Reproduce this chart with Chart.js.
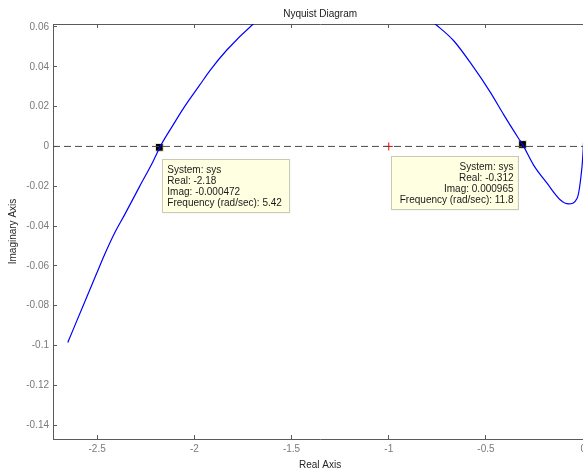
<!DOCTYPE html>
<html>
<head>
<meta charset="utf-8">
<title>Nyquist Diagram</title>
<script src="https://cdn.jsdelivr.net/npm/chart.js@4/dist/chart.umd.min.js"></script>
<style>
  html, body { margin: 0; padding: 0; background: #fff; overflow: hidden; }
  #wrap { width: 583px; height: 473px; overflow: hidden; }
  canvas { display: block; }
</style>
</head>
<body>
<div id="wrap"><canvas id="nyq" width="594" height="473"></canvas></div>
<script>
// 1) data
const curveRe = [-2.651, -2.557, -2.505, -2.462, -2.410, -2.359, -2.282, -2.213, -2.176, -2.168,
                 -2.109, -2.057, -1.971, -1.920, -1.834, -1.697, -1.50, -1.35, -1.23, -1.10,
                 -0.90, -0.761, -0.667, -0.564, -0.478, -0.409, -0.332, -0.312, -0.255, -0.186,
                 -0.117, -0.075, -0.031, -0.006, -0.001, 0.004];
const curveIm = [-0.0985, -0.0765, -0.0644, -0.0544, -0.0435, -0.0344, -0.0202, -0.0077, -0.0002, 0.0013,
                 0.0108, 0.019, 0.0310, 0.0381, 0.0483, 0.0615, 0.0764, 0.0825, 0.084, 0.0823,
                 0.0728, 0.0615, 0.0532, 0.0398, 0.0273, 0.0160, 0.0040, 0.0010, -0.0094, -0.0185,
                 -0.0269, -0.0289, -0.026, -0.0102, -0.0035, 0.006];

const xRange = [-2.727, 0.021];
const yRange = [-0.147, 0.0615];
const criticalPoint = [-1, 0];

// data tips: [re, im, freq]
const tipRe   = [-2.18, -0.312];
const tipIm   = [-0.000472, 0.000965];
const tipFreq = ['5.42', '11.8'];
const tipSys  = 'sys';

// 2) build datasets
const curvePts = curveRe.map((re, i) => ({ x: re, y: curveIm[i] }));
const tipPts = tipRe.map((re, i) => ({ x: re, y: tipIm[i] }));

const FONT = "'Liberation Sans', Arial, Helvetica, sans-serif";
const fmt = v => String(Number(v.toFixed(4)));

// 3) data tip boxes
const dataTips = {
  id: 'dataTips',
  afterDatasetsDraw(chart) {
    const { ctx, scales } = chart;
    ctx.save();
    ctx.font = '10px ' + FONT;
    ctx.textBaseline = 'middle';
    tipRe.forEach((re, i) => {
      const px = scales.x.getPixelForValue(re);
      const py = scales.y.getPixelForValue(tipIm[i]);
      const lines = ['System: ' + tipSys, 'Real: ' + re, 'Imag: ' + tipIm[i], 'Frequency (rad/sec): ' + tipFreq[i]];
      const w = 127, h = 53;
      const left = i === 0 ? px + 3 : px - 5 - w;
      const top = py + 12;
      ctx.fillStyle = 'rgba(0,0,0,0.08)';
      ctx.fillRect(left + 1, top + 1, w, h);
      ctx.fillStyle = '#ffffe1';
      ctx.fillRect(left, top, w, h);
      ctx.strokeStyle = '#c9c9b8';
      ctx.lineWidth = 1;
      ctx.strokeRect(Math.round(left) + 0.5, Math.round(top) + 0.5, w, h);
      ctx.fillStyle = '#1a1a1a';
      ctx.textAlign = i === 0 ? 'left' : 'right';
      const tx = i === 0 ? left + 5 : left + w - 4;
      lines.forEach((t, k) => ctx.fillText(t, tx, top + 11 + k * 11));
    });
    ctx.restore();
  }
};

const axisColor = '#5a5a5a';

new Chart(document.getElementById('nyq'), {
  type: 'line',
  data: {
    datasets: [
      {
        data: curvePts,
        borderColor: '#0000ff',
        borderWidth: 1.2,
        pointRadius: 0,
        cubicInterpolationMode: 'monotone',
        fill: false
      },
      {
        data: [{ x: xRange[0], y: 0 }, { x: xRange[1], y: 0 }],
        borderColor: '#4a4a4a',
        borderWidth: 1,
        borderDash: [7, 4],
        pointRadius: 0,
        fill: false
      },
      {
        data: [{ x: criticalPoint[0], y: criticalPoint[1] }],
        showLine: false,
        pointStyle: 'cross',
        pointRadius: 4,
        borderColor: '#ff0000',
        borderWidth: 1
      },
      {
        data: tipPts,
        showLine: false,
        pointStyle: 'rect',
        pointRadius: 5.5,
        backgroundColor: '#000000',
        borderColor: '#f3eec4',
        borderWidth: 1
      }
    ]
  },
  options: {
    responsive: false,
    animation: false,
    layout: { padding: { left: 0, right: 0, top: 0, bottom: 0 } },
    plugins: {
      legend: { display: false },
      tooltip: { enabled: false },
      title: { display: false }
    },
    scales: {
      x: {
        type: 'linear',
        position: 'bottom',
        min: xRange[0],
        max: xRange[1],
        border: { display: true, color: axisColor, width: 1 },
        grid: { drawOnChartArea: false, drawTicks: true, tickLength: -4, color: axisColor },
        ticks: {
          stepSize: 0.5, includeBounds: false, autoSkip: false, maxRotation: 0,
          padding: 8, color: '#7a7a7a', font: { family: FONT, size: 10 },
          callback: v => fmt(v)
        },
        title: { display: true, text: 'Real Axis', color: '#262626', font: { family: FONT, size: 10 }, padding: { top: 0, bottom: 2 } },
        afterFit(s) { s.height = 34; }
      },
      x2: {
        type: 'linear',
        position: 'top',
        min: xRange[0],
        max: xRange[1],
        border: { display: true, color: axisColor, width: 1 },
        grid: { drawOnChartArea: false, drawTicks: true, tickLength: -4, color: axisColor },
        ticks: { stepSize: 0.5, includeBounds: false, display: false },
        title: { display: true, text: 'Nyquist Diagram', color: '#1a1a1a', font: { family: FONT, size: 10 }, padding: { top: 8, bottom: 0 } },
        afterFit(s) { s.height = 24; }
      },
      y: {
        type: 'linear',
        position: 'left',
        min: yRange[0],
        max: yRange[1],
        border: { display: true, color: axisColor, width: 1 },
        grid: { drawOnChartArea: false, drawTicks: true, tickLength: -4, color: axisColor },
        ticks: {
          stepSize: 0.02, includeBounds: false, autoSkip: false,
          padding: 8, color: '#7a7a7a', font: { family: FONT, size: 10 },
          callback: v => fmt(v)
        },
        title: { display: true, text: 'Imaginary Axis', color: '#262626', font: { family: FONT, size: 10 }, padding: { top: 7, bottom: 0 } },
        afterFit(s) { s.width = 53; }
      }
    }
  },
  plugins: [dataTips]
});
</script>
</body>
</html>
